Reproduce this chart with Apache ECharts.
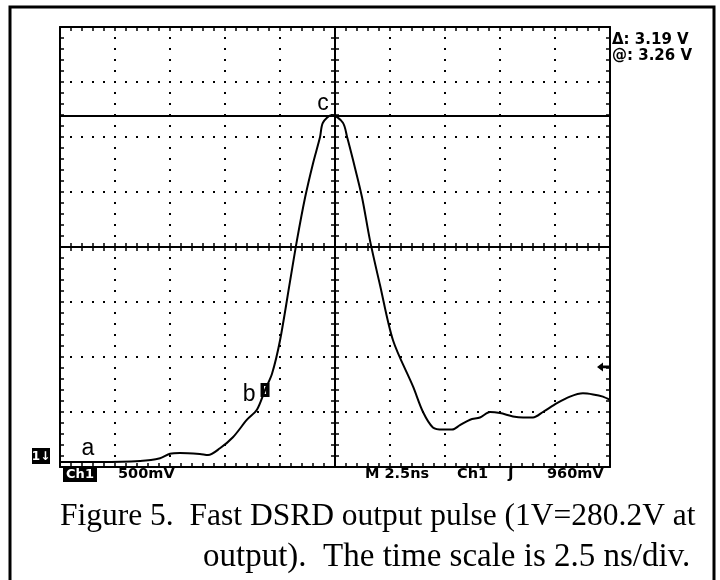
<!DOCTYPE html>
<html><head><meta charset="utf-8">
<script src="https://cdn.jsdelivr.net/npm/echarts@6/dist/echarts.min.js"></script>
<style>html,body{margin:0;padding:0;background:#fff}#c{width:720px;height:580px}</style>
</head><body><div id="c"></div>
<script>
// Time in ns (2.5 ns/div, 10 div), volts above bottom graticule (500 mV/div, 8 div)
const timeNs = [0, 1.82, 3.64, 4.55, 5.0, 5.45, 6.36, 6.73, 7.27, 7.86, 8.5, 8.95, 9.32, 9.64, 10.0, 10.45, 10.77, 11.14, 11.5, 11.82, 11.95, 12.36, 12.86, 13.05, 13.32, 13.73, 14.09, 14.55, 15.14, 16.05, 16.5, 16.95, 17.41, 17.82, 18.18, 18.64, 19.09, 19.55, 20.0, 20.59, 21.05, 21.5, 21.95, 22.59, 23.18, 23.77, 24.23, 24.68, 25.0];
const volts = [0.045, 0.045, 0.055, 0.08, 0.12, 0.127, 0.118, 0.109, 0.17, 0.27, 0.43, 0.52, 0.70, 0.85, 1.15, 1.68, 2.06, 2.45, 2.76, 3.0, 3.13, 3.2, 3.13, 3.0, 2.79, 2.45, 2.06, 1.65, 1.15, 0.73, 0.5, 0.36, 0.34, 0.34, 0.38, 0.43, 0.45, 0.5, 0.49, 0.46, 0.45, 0.45, 0.5, 0.58, 0.64, 0.67, 0.66, 0.64, 0.61];
const cursorDelta = 3.19;
const cursorReadout = ['\u0394: 3.19 V', '@: 3.26 V'];
const triggerLevel = 0.91;
const annotNames = ['a', 'b', 'c'];
const annotTimes = [1.27, 9.32, 12.36];
const annotVolts = [0.045, 0.70, 3.2];
const statusLeft = ['Ch1', '500mV'];
const statusRight = ['M 2.5ns', 'Ch1', '\u0283', '960mV'];
const captionLines = ['Figure 5.  Fast DSRD output pulse (1V=280.2V at', 'output).  The time scale is 2.5 ns/div.'];

const chart = echarts.init(document.getElementById('c'), null, {renderer: 'canvas'});
const black = '#000';
const tickStyle = {color: black, width: 1.5};
const dotted = {color: black, width: 2, type: [2, 9], dashOffset: 1};
function axis(dim, position, inside, offset, split) {
  const a = {
    type: 'value', position: position, offset: offset || 0,
    axisLabel: {show: false},
    axisLine: {show: true, onZero: false, lineStyle: {color: black, width: 2}},
    axisTick: {show: true, inside: inside, length: 4, lineStyle: tickStyle},
    minorTick: {show: true, splitNumber: 5, length: 4, lineStyle: tickStyle},
    splitLine: split ? {show: true, lineStyle: dotted} : {show: false}
  };
  if (dim === 'x') { a.min = 0; a.max = 25; a.interval = 2.5; }
  else { a.min = 0; a.max = 4; a.interval = 0.5; }
  return a;
}
const pts = timeNs.map((t, i) => [t, volts[i]]);
const labelOffsets = [[0, -13], [-16, 5], [-9, -11]];
const markData = annotNames.map((n, i) => ({
  coord: [annotTimes[i], annotVolts[i]], symbolSize: 0,
  label: {show: true, formatter: n, offset: labelOffsets[i], color: black, fontSize: 23, fontFamily: 'Liberation Sans'}
}));
markData.push({coord: [annotTimes[1], annotVolts[1]], symbol: 'rect', symbolSize: [9, 14], itemStyle: {color: black}, label: {show: false}});
markData.push({coord: [annotTimes[1], annotVolts[1]], symbol: 'rect', symbolSize: [2, 8], itemStyle: {color: '#fff'}, label: {show: false}});
markData.push({coord: [25, triggerLevel], symbol: 'path://M0,5 L6,0 L6,3.5 L12,3.5 L12,6.5 L6,6.5 L6,10 Z', symbolSize: [12, 9], symbolOffset: [-7, 0], itemStyle: {color: black}, label: {show: false}});

const mono = 'DejaVu Sans';
function txt(x, y, s, size, extra) {
  return Object.assign({type: 'text', x: x, y: y, style: {text: s, fill: black, font: 'bold ' + size + 'px "' + mono + '"', verticalAlign: 'middle'}}, extra || {});
}
function boxTxt(x, y, w, h, s, size) {
  return [
    {type: 'rect', shape: {x: x, y: y, width: w, height: h}, style: {fill: black}},
    {type: 'text', x: x + w / 2, y: y + h / 2 + 1, style: {text: s, fill: '#fff', font: 'bold ' + size + 'px "' + mono + '"', align: 'center', verticalAlign: 'middle'}}
  ];
}

const graphics = [
  {type: 'rect', shape: {x: 10, y: 7, width: 704, height: 600}, style: {fill: 'none', stroke: black, lineWidth: 3}},
  txt(612, 40, cursorReadout[0], 15),
  txt(612, 56, cursorReadout[1], 15),
  ...boxTxt(63, 466, 34, 16, statusLeft[0], 13),
  txt(118, 474, statusLeft[1], 14.5),
  txt(365, 474, statusRight[0], 14.5),
  txt(457, 474, statusRight[1], 14.5),
  txt(508, 474, statusRight[2], 16),
  txt(547, 474, statusRight[3], 14.5),
  ...boxTxt(32, 448, 18, 16, '1\u2193', 12),
  {type: 'text', x: 60, y: 517, style: {text: captionLines[0], fill: black, font: '31.5px "Liberation Serif"', verticalAlign: 'middle'}},
  {type: 'text', x: 203, y: 557, style: {text: captionLines[1], fill: black, font: '33px "Liberation Serif"', verticalAlign: 'middle'}}
];

chart.setOption({
  animation: false,
  backgroundColor: '#fff',
  grid: {left: 60, top: 27, width: 550, height: 440, outerBoundsMode: 'none', containLabel: false},
  xAxis: [
    axis('x', 'bottom', true, 0, true),
    axis('x', 'top', true, 0, false),
    axis('x', 'bottom', true, -220, false),
    axis('x', 'bottom', false, -220, false)
  ],
  yAxis: [
    axis('y', 'left', true, 0, true),
    axis('y', 'right', true, 0, false),
    axis('y', 'left', true, -275, false),
    axis('y', 'left', false, -275, false)
  ],
  series: [{
    type: 'line', xAxisIndex: 0, yAxisIndex: 0, data: pts, smooth: 0.3,
    showSymbol: false, lineStyle: {color: black, width: 2}, z: 5,
    markLine: {silent: true, symbol: ['none', 'none'], label: {show: false},
      lineStyle: {color: black, width: 2, type: 'solid'}, data: [{yAxis: cursorDelta}]},
    markPoint: {silent: true, data: markData}
  }],
  graphic: graphics
});
</script></body></html>
